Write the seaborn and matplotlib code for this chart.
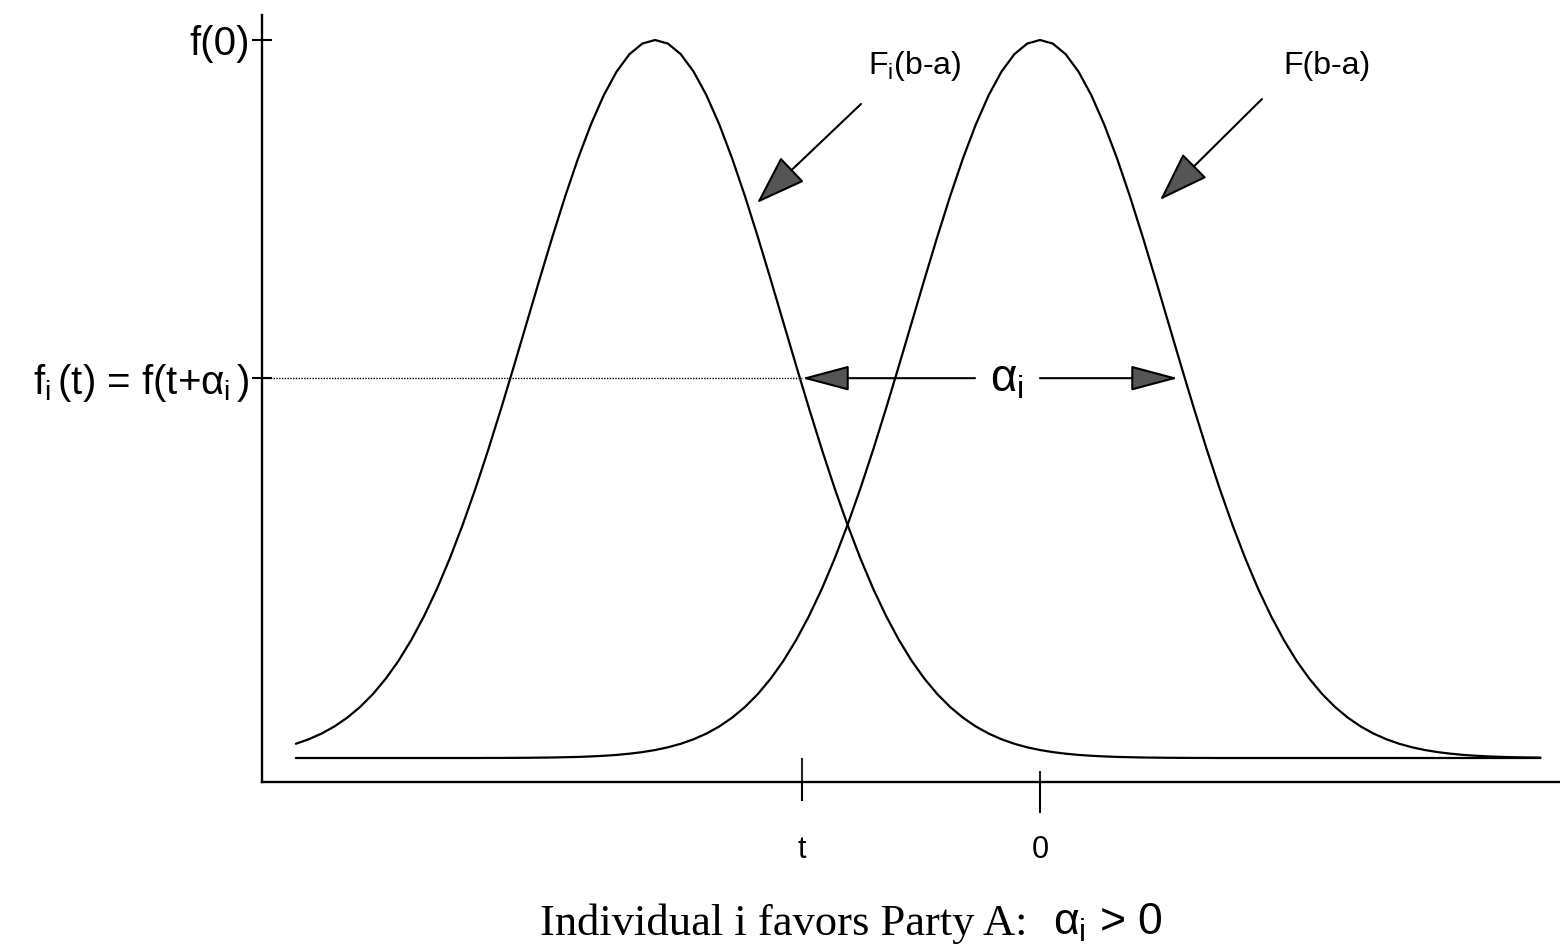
import numpy as np
import pandas as pd
import matplotlib
matplotlib.use("Agg")
import matplotlib.pyplot as plt
import seaborn as sns

# ---------------- data ----------------
# height of the bell curve at offsets 0, 0.1, 0.2, ... (in sigma units) from its peak
profile = [1.0000, 0.9950, 0.9802, 0.9560, 0.9231, 0.8825, 0.8353, 0.7827, 0.7261, 0.6670,
           0.6065, 0.5461, 0.4868, 0.4296, 0.3753, 0.3247, 0.2780, 0.2357, 0.1979, 0.1645,
           0.1353, 0.1103, 0.0889, 0.0710, 0.0561, 0.0439, 0.0340, 0.0261, 0.0198, 0.0149,
           0.0111, 0.0082, 0.0060, 0.0043, 0.0031, 0.0022, 0.0015, 0.0011, 0.0007, 0.0005,
           0.0003, 0.0002, 0.0001, 0.0001, 0.0000, 0.0000, 0.0000, 0.0000, 0.0000, 0.0000,
           0.0000, 0.0000, 0.0000, 0.0000, 0.0000, 0.0000, 0.0000, 0.0000, 0.0000, 0.0000,
           0.0000, 0.0000, 0.0000, 0.0000, 0.0000, 0.0000, 0.0000, 0.0000, 0.0000, 0.0000]
step = 0.1
alpha_i = 3.0
curve_names = ["F_i(b-a)", "F(b-a)"]
curve_peaks = [-alpha_i, 0.0]
x_start, x_end = -5.8, 3.9
t_value = -1.855
ft_level = 0.529
ytick_values = [1.0, ft_level]
ytick_labels = ["f(0)", r"f$_{\rm i}\,$(t) = f(t+$\alpha_{\rm i}\,$)"]
xtick_values = [t_value, 0.0]
xtick_labels = ["t", "0"]

# ---------------- build table ----------------
n = int(round((x_end - x_start) / step)) + 1
rows = []
for name, peak in zip(curve_names, curve_peaks):
    for k in range(n):
        x = x_start + k * step
        idx = int(round(abs(x - peak) / step))
        rows.append((name, x, profile[idx]))
df = pd.DataFrame(rows, columns=["curve", "x", "density"])

# ---------------- style ----------------
sns.set_theme(style="white")
plt.rcParams["font.family"] = ["Liberation Sans", "DejaVu Sans"]
plt.rcParams["text.color"] = "black"
plt.rcParams["mathtext.fontset"] = "custom"
plt.rcParams["mathtext.rm"] = "Liberation Sans"
plt.rcParams["mathtext.it"] = "Liberation Sans"
plt.rcParams["mathtext.sf"] = "Liberation Sans"
plt.rcParams["mathtext.bf"] = "Liberation Sans:bold"

W, H = 1560, 951
fig = plt.figure(figsize=(W / 100, H / 100), dpi=100)
ax = fig.add_axes([262 / W, 1 - 782 / H, (W - 262) / W, (782 - 15) / H])

PX = 128.3   # pixels per x unit
X0 = 1040    # pixel of x = 0
PY = 718     # pixels per y unit
Y0 = 758     # pixel of y = 0


def dx(px):
    return (px - X0) / PX


def dy(py):
    return (Y0 - py) / PY


sns.lineplot(data=df, x="x", y="density", units="curve", estimator=None,
             color="black", linewidth=1.6, sort=False, ax=ax)

ax.set_xlim(dx(262), dx(1560))
ax.set_ylim(dy(782), dy(15))
ax.set_xlabel("")
ax.set_ylabel("")

for s in ["top", "right"]:
    ax.spines[s].set_visible(False)
for s in ["left", "bottom"]:
    ax.spines[s].set_color("black")
    ax.spines[s].set_linewidth(1.7)

# dotted guide at f_i(t)
ax.plot([dx(262), t_value], [ft_level, ft_level], color="black",
        linestyle=(0, (1, 1)), linewidth=1.0)

# ticks
ax.set_yticks(ytick_values, labels=ytick_labels)
ax.tick_params(axis="y", direction="inout", length=15, width=1.5, pad=1,
               labelsize=29, colors="black", left=True)
ax.set_xticks(xtick_values, labels=xtick_labels)
ax.tick_params(axis="x", which="major", direction="out", length=18, width=1.5,
               pad=20, labelsize=22, colors="black", bottom=True)
ax.xaxis.remove_overlapping_locs = False
ax.set_xticks(xtick_values, minor=True)
ax.tick_params(axis="x", which="minor", direction="in", length=13, width=1.5,
               bottom=True)
maj = ax.xaxis.get_major_ticks()
mino = ax.xaxis.get_minor_ticks()
out_len = [14, 22]
in_len = [17, 8]
for i in range(2):
    maj[i].tick1line.set_markersize(out_len[i])
    mino[i].tick1line.set_markersize(in_len[i])

# arrows
head_diag = "-|>,head_length=32,head_width=11"
head_h = "-|>,head_length=30,head_width=8"
common = dict(fc="#555555", ec="black", lw=1.5, shrinkA=0, shrinkB=0,
              mutation_scale=1)
ax.annotate("", xy=(dx(757), dy(203)), xytext=(dx(861), dy(104)),
            arrowprops=dict(arrowstyle=head_diag, **common))
ax.annotate("", xy=(dx(1160), dy(200)), xytext=(dx(1262), dy(99)),
            arrowprops=dict(arrowstyle=head_diag, **common))
ax.annotate("", xy=(t_value, ft_level), xytext=(dx(975), ft_level),
            arrowprops=dict(arrowstyle=head_h, **common))
ax.annotate("", xy=(dx(1178), ft_level), xytext=(dx(1040), ft_level),
            arrowprops=dict(arrowstyle=head_h, **common))

# labels
ax.text(dx(868), dy(66), r"F$_{\rm i}$(b-a)", fontsize=23, ha="left", va="center")
ax.text(dx(1283), dy(66), "F(b-a)", fontsize=23, ha="left", va="center")
ax.text(dx(990), dy(380), r"$\alpha_{\rm i}$", fontsize=33, ha="left", va="center")

fig.text(540 / W, 1 - 935 / H, "Individual i favors Party A:", fontsize=32,
         family="Liberation Serif", ha="left", va="baseline")
fig.text(1053 / W, 1 - 935 / H, r"$\alpha_{\rm i}$ > 0", fontsize=32,
         ha="left", va="baseline")

fig.savefig("out.png", dpi=100)
